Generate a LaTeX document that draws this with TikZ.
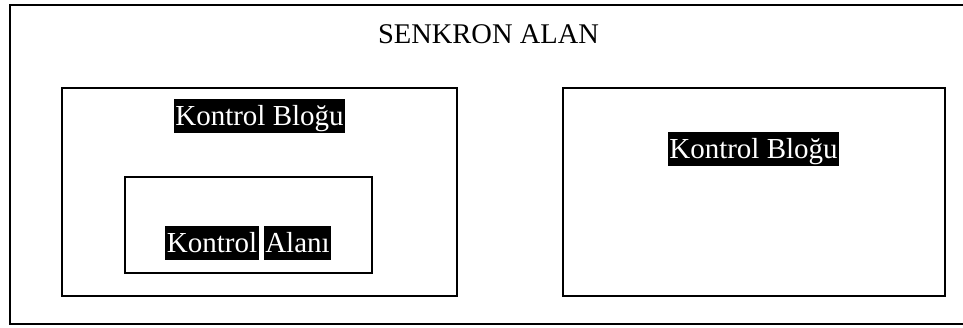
\documentclass[tikz,border=0pt]{standalone}
\usepackage{fontspec}
\setmainfont{Liberation Serif}
\tikzset{
  frame/.style={draw=black, line width=2pt, fill=none, inner sep=0pt},
  hl/.style={fill=black, text=white, inner xsep=1.5pt, inner ysep=0pt, text height=26pt, text depth=8pt, font=\fontsize{29}{34}\selectfont},
  plain/.style={inner sep=0pt, font=\fontsize{28.5}{34}\selectfont}
}
\begin{document}
\begin{tikzpicture}[x=1pt,y=-1pt]
\useasboundingbox (0,0) rectangle (963,327);
\clip (0,0) rectangle (963,327);
\fill[white] (0,0) rectangle (963,327);
\node[frame, minimum width=970pt, minimum height=319pt] (outer) at (495,164.5) {};
\node[frame, minimum width=395pt, minimum height=208pt] (leftbox) at (259.5,192) {};
\node[frame, minimum width=247pt, minimum height=96pt] (inner) at (248.5,225) {};
\node[frame, minimum width=382pt, minimum height=208pt] (rightbox) at (753.5,192) {};
\node[plain, anchor=base] (title) at (488.5,43) {SENKRON ALAN};
\node[hl] (lb) at (259.5,116) {Kontrol Bloğu};
\node[hl] (rb) at (753.5,149) {Kontrol Bloğu};
\node[hl] (ka1) at (212,243) {Kontrol};
\node[hl] (ka2) at (297.5,243) {Alanı};
\end{tikzpicture}
\end{document}
